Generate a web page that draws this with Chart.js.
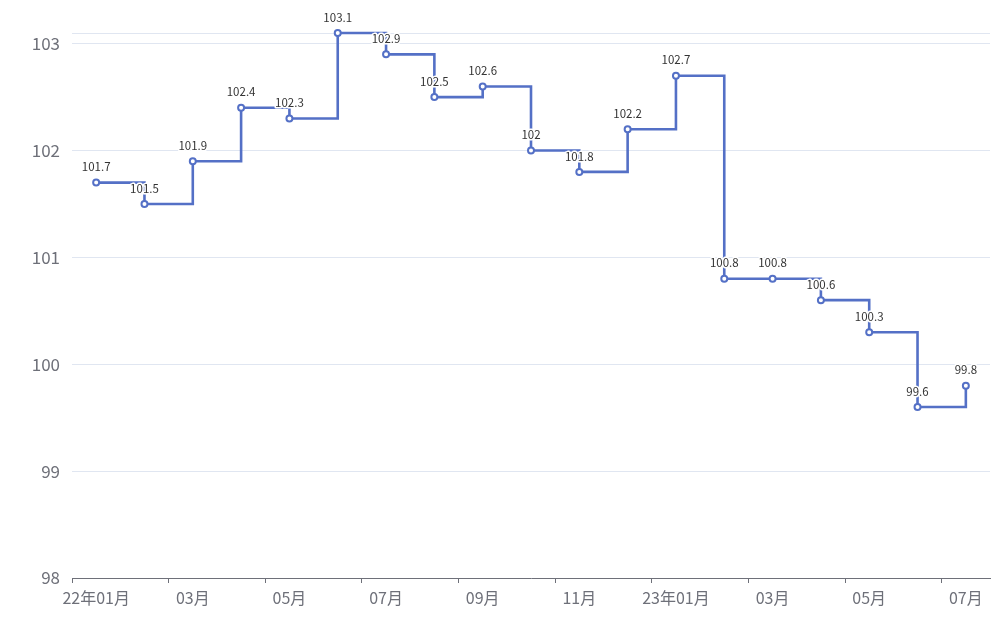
<!DOCTYPE html>
<html>
<head>
<meta charset="utf-8">
<script src="https://cdn.jsdelivr.net/npm/chart.js@4/dist/chart.umd.min.js"></script>
<style>
  html, body { margin: 0; padding: 0; background: #fff; }
  #wrap { width: 1003px; height: 620px; }
</style>
</head>
<body>
<div id="wrap"><canvas id="chart" width="1003" height="620"></canvas></div>
<script>
let months = ['22年01月', '02月', '03月', '04月', '05月', '06月', '07月', '08月', '09月', '10月', '11月', '12月',
    '23年01月', '02月', '03月', '04月', '05月', '06月', '07月'];
let values = [101.7, 101.5, 101.9, 102.4, 102.3, 103.1, 102.9, 102.5, 102.6, 102, 101.8, 102.2,
    102.7, 100.8, 100.8, 100.6, 100.3, 99.6, 99.8];
let yTicks = [98, 99, 100, 101, 102, 103];
let yMin = 98;
let yMax = 103.1;

// labels over each point, with a white halo like the original
let pointLabels = {
    id: 'pointLabels',
    afterDatasetsDraw(chart) {
        let ctx = chart.ctx;
        let meta = chart.getDatasetMeta(0);
        ctx.save();
        ctx.font = '11.5px "Noto Sans CJK SC", sans-serif';
        ctx.textAlign = 'center';
        ctx.textBaseline = 'bottom';
        ctx.lineJoin = 'round';
        meta.data.forEach((pt, i) => {
            let text = String(values[i]);
            ctx.lineWidth = 3;
            ctx.strokeStyle = '#fff';
            ctx.strokeText(text, pt.x, pt.y - 10);
            ctx.fillStyle = '#333';
            ctx.fillText(text, pt.x, pt.y - 10);
        });
        ctx.restore();
    }
};

new Chart(document.getElementById('chart').getContext('2d'), {
    type: 'line',
    data: {
        labels: months,
        datasets: [{
            data: values,
            stepped: 'before',
            clip: 10,
            borderColor: '#5470c6',
            borderWidth: 2.6,
            pointRadius: 3,
            pointBorderWidth: 2,
            pointBackgroundColor: '#fff',
            pointBorderColor: '#5470c6',
            fill: false
        }]
    },
    options: {
        responsive: false,
        animation: false,
        layout: { padding: { top: 33, right: 13, left: 0, bottom: 0 } },
        plugins: { legend: { display: false }, tooltip: { enabled: false } },
        scales: {
            x: {
                offset: true,
                afterFit: s => { s.height = 42; },
                grid: {
                    offset: true,
                    drawOnChartArea: false,
                    drawTicks: true,
                    tickLength: 5,
                    color: c => (c.index % 2 === 0 || c.index === months.length) ? '#6e7079' : 'rgba(0,0,0,0)'
                },
                border: { display: true, color: '#6e7079', width: 1 },
                ticks: {
                    autoSkip: false,
                    maxRotation: 0,
                    padding: 5,
                    color: '#6e7079',
                    font: { size: 16, family: '"Noto Sans CJK SC", sans-serif' },
                    callback: (v, i) => i % 2 === 0 ? months[i] : ''
                }
            },
            y: {
                min: yMin,
                max: yMax,
                afterFit: s => { s.width = 72; },
                afterBuildTicks: s => { s.ticks = yTicks.concat([yMax]).map(v => ({ value: v })); },
                grid: { color: '#e0e6f1', drawTicks: false },
                border: { display: false },
                ticks: {
                    padding: 12,
                    color: '#6e7079',
                    font: { size: 17, family: '"Noto Sans CJK SC", sans-serif' },
                    callback: v => yTicks.includes(v) ? v : ''
                }
            }
        }
    },
    plugins: [pointLabels]
});
</script>
</body>
</html>
